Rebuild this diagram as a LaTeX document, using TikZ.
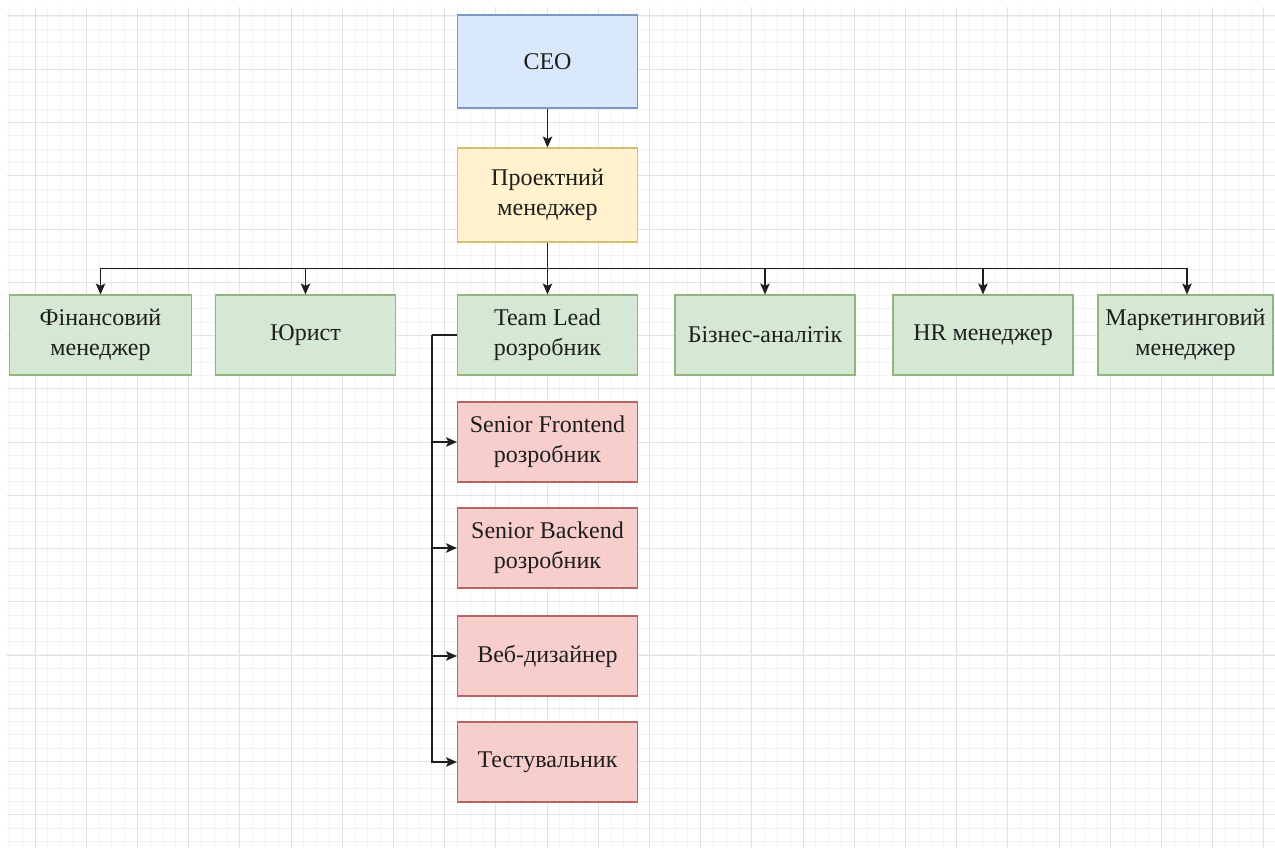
\documentclass[tikz,border=0pt]{standalone}
\usepackage{fontspec}
\setmainfont{Liberation Serif}
\usetikzlibrary{arrows.meta,calc}

\definecolor{gridminor}{HTML}{F2F2F2}
\definecolor{gridmajor}{HTML}{E2E2E2}
\definecolor{bluefill}{HTML}{DAE8FC}
\definecolor{bluedraw}{HTML}{7F98C2}
\definecolor{yellowfill}{HTML}{FFF2CC}
\definecolor{yellowdraw}{HTML}{D8BE72}
\definecolor{greenfill}{HTML}{D5E8D4}
\definecolor{greendraw}{HTML}{92B47E}
\definecolor{redfill}{HTML}{F8CECC}
\definecolor{reddraw}{HTML}{B86462}
\definecolor{ink}{HTML}{1E1E1E}

\tikzset{
  box/.style={draw, line width=1.1pt, align=center, inner sep=0pt,
    minimum width=180pt, minimum height=80pt, text=ink,
    font=\fontsize{24}{30}\selectfont},
  topbox/.style={box, fill=bluefill, draw=bluedraw, minimum height=93pt},
  pmbox/.style={box, fill=yellowfill, draw=yellowdraw, minimum height=94pt},
  deptbox/.style={box, fill=greenfill, draw=greendraw},
  devbox/.style={box, fill=redfill, draw=reddraw},
  link/.style={draw=ink, line width=1.5pt},
  arr/.style={link, -{Stealth[length=11pt,width=9.5pt,inset=2.5pt]}}
}

\begin{document}
\begin{tikzpicture}[x=1pt,y=-1pt]
  \useasboundingbox (0,0) rectangle (1275,848);
  \fill[white] (0,0) rectangle (1275,848);

  % background grid: fine lines every quarter cell, stronger lines every cell
  \begin{scope}
    \clip (7,7) rectangle (1275,848);
    \foreach \i in {0,...,99}
      \draw[gridminor, line width=0.8pt] ({9.4+12.8*\i},7) -- ({9.4+12.8*\i},848);
    \foreach \j in {0,...,63}
      \draw[gridminor, line width=0.8pt] (7,{2.7+13.31*\j}) -- (1275,{2.7+13.31*\j});
    \foreach \i in {0,...,24}
      \draw[gridmajor, line width=1pt] ({35+51.2*\i},7) -- ({35+51.2*\i},848);
    \foreach \j in {0,...,15}
      \draw[gridmajor, line width=1pt] (7,{16+53.25*\j}) -- (1275,{16+53.25*\j});
  \end{scope}

  % management
  \node[topbox] (ceo) at (547.5,61.5) {CEO};
  \node[pmbox]  (pm)  at (547.5,195)  {Проектний\\менеджер};

  % departments
  \node[deptbox, minimum width=182pt] (fin) at (100.5,335) {Фінансовий\\менеджер};
  \node[deptbox] (law) at (305.5,335) {Юрист};
  \node[deptbox] (tl)  at (547.5,335) {Team Lead\\розробник};
  \node[deptbox] (ba)  at (765,335)   {Бізнес-аналітік};
  \node[deptbox] (hr)  at (983,335)   {HR менеджер};
  \node[deptbox, minimum width=175pt] (mkt) at (1185.5,335) {Маркетинговий\\менеджер};

  % development team
  \node[devbox] (fe)   at (547.5,442) {Senior Frontend\\розробник};
  \node[devbox] (be)   at (547.5,548) {Senior Backend\\розробник};
  \node[devbox] (web)  at (547.5,656) {Веб-дизайнер};
  \node[devbox] (qa)   at (547.5,762) {Тестувальник};

  % connectors
  \draw[arr] (ceo.south) -- (pm.north);
  \coordinate (bus) at ($(pm.south)+(0,26)$);
  \draw[arr] (pm.south) -- (tl.north);
  \draw[arr] (bus) -| (fin.north);
  \draw[arr] (bus) -| (law.north);
  \draw[arr] (bus) -| (ba.north);
  \draw[arr] (bus) -| (hr.north);
  \draw[arr] (bus) -| ($(mkt.north)+(1.5,0)$);

  \coordinate (branch) at ($(tl.west)+(-25,0)$);
  \draw[link] (tl.west) -- (branch);
  \draw[arr] (branch) |- (fe.west);
  \draw[arr] (branch) |- (be.west);
  \draw[arr] (branch) |- (web.west);
  \draw[arr] (branch) |- (qa.west);
\end{tikzpicture}
\end{document}
